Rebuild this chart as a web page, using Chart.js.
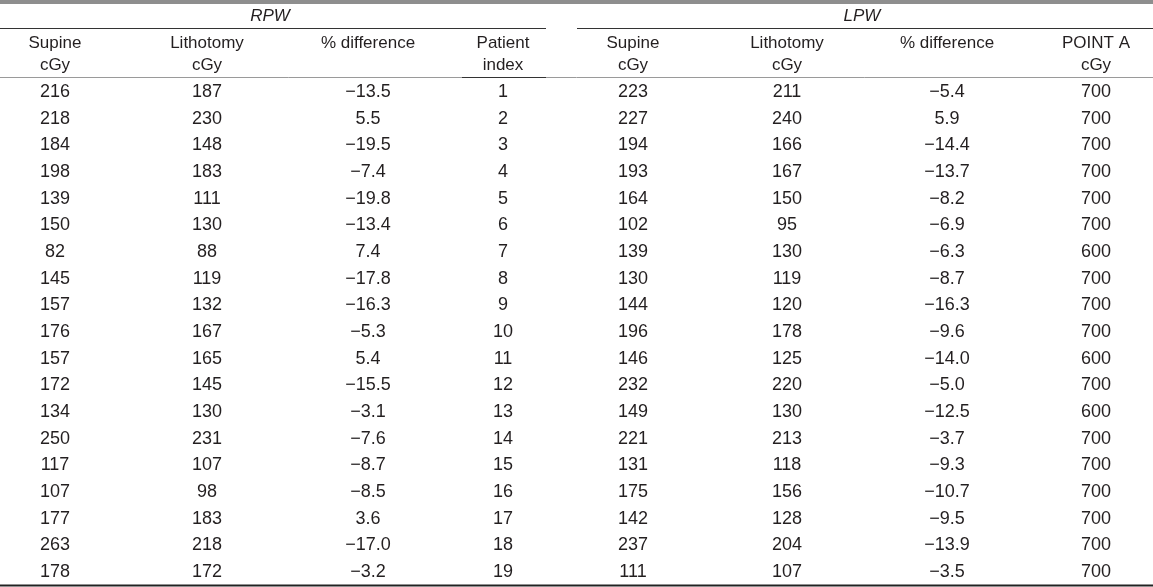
<!DOCTYPE html>
<html>
<head>
<meta charset="utf-8">
<script src="https://cdn.jsdelivr.net/npm/chart.js@4.4.1/dist/chart.umd.min.js"></script>
<style>
  html, body { margin: 0; padding: 0; background: #ffffff; }
  #wrap { width: 1153px; height: 587px; position: relative; }
</style>
</head>
<body>
<div id="wrap"><canvas id="c"></canvas></div>
<script>
// ---- Data ----
const patientIndex = [1,2,3,4,5,6,7,8,9,10,11,12,13,14,15,16,17,18,19];
const rpwSupine    = [216,218,184,198,139,150,82,145,157,176,157,172,134,250,117,107,177,263,178];
const rpwLithotomy = [187,230,148,183,111,130,88,119,132,167,165,145,130,231,107,98,183,218,172];
const rpwDiff      = [-13.5,5.5,-19.5,-7.4,-19.8,-13.4,7.4,-17.8,-16.3,-5.3,5.4,-15.5,-3.1,-7.6,-8.7,-8.5,3.6,-17.0,-3.2];
const lpwSupine    = [223,227,194,193,164,102,139,130,144,196,146,232,149,221,131,175,142,237,111];
const lpwLithotomy = [211,240,166,167,150,95,130,119,120,178,125,220,130,213,118,156,128,204,107];
const lpwDiff      = [-5.4,5.9,-14.4,-13.7,-8.2,-6.9,-6.3,-8.7,-16.3,-9.6,-14.0,-5.0,-12.5,-3.7,-9.3,-10.7,-9.5,-13.9,-3.5];
const pointA       = [700,700,700,700,700,700,600,700,700,700,600,700,600,700,700,700,700,700,700];

const groupLabels = ['RPW', 'LPW'];
const headerLine1 = ['Supine','Lithotomy','% difference','Patient','Supine','Lithotomy','% difference','POINT A'];
const headerLine2 = ['cGy','cGy','','index','cGy','cGy','','cGy'];

// ---- Layout (scale units == pixels) ----
const colX = [55, 207, 368, 503, 633, 787, 947, 1096];
const groupX = [270, 862];
const rowY0 = 91, rowStep = 26.67;
const headY1 = 43, headY2 = 65, groupY = 16;

function fmtDiff(v) {
  return (v < 0 ? '\u2212' : '') + Math.abs(v).toFixed(1);
}
const columns = [
  rpwSupine.map(String), rpwLithotomy.map(String), rpwDiff.map(fmtDiff), patientIndex.map(String),
  lpwSupine.map(String), lpwLithotomy.map(String), lpwDiff.map(fmtDiff), pointA.map(String)
];

const datasets = columns.map((col, ci) => ({
  label: headerLine1[ci],
  data: col.map((txt, ri) => ({ x: colX[ci], y: rowY0 + rowStep * ri, t: txt })),
  pointRadius: 0, showLine: false
}));

const HFONT = '17px "Liberation Sans", Arial, sans-serif';
const NFONT = '18px "Liberation Sans", Arial, sans-serif';
const IFONT = 'italic 17px "Liberation Sans", Arial, sans-serif';
const INK = '#231f20';

const tablePlugin = {
  id: 'tablePlugin',
  afterDatasetsDraw(chart) {
    const ctx = chart.ctx;
    const xs = chart.scales.x, ys = chart.scales.y;
    const px = v => xs.getPixelForValue(v), py = v => ys.getPixelForValue(v);
    ctx.save();
    function hline(x1, x2, y, w, color) {
      ctx.beginPath(); ctx.strokeStyle = color; ctx.lineWidth = w;
      ctx.moveTo(px(x1), py(y)); ctx.lineTo(px(x2), py(y)); ctx.stroke();
    }
    ctx.fillStyle = '#8e8e8e';
    ctx.fillRect(px(0), py(0), px(1153) - px(0), py(4) - py(0));
    hline(0, 546, 28.5, 1.2, '#333');
    hline(577, 1153, 28.5, 1.2, '#333');
    hline(0, 1153, 77.5, 1, '#9a9a9a');
    hline(462, 546, 77.5, 1.2, '#333');
    hline(0, 1153, 585.5, 2, '#222');

    ctx.fillStyle = INK;
    ctx.textAlign = 'center';
    ctx.textBaseline = 'middle';
    ctx.font = IFONT;
    groupLabels.forEach((g, i) => ctx.fillText(g, px(groupX[i]), py(groupY)));
    ctx.font = HFONT;
    headerLine1.forEach((h, i) => ctx.fillText(h, px(colX[i]), py(headY1)));
    headerLine2.forEach((h, i) => { if (h) ctx.fillText(h, px(colX[i]), py(headY2)); });
    ctx.font = NFONT;
    chart.data.datasets.forEach((ds, di) => {
      const meta = chart.getDatasetMeta(di);
      meta.data.forEach((el, k) => {
        ctx.fillText(ds.data[k].t, el.x, el.y + 1);
      });
    });
    ctx.restore();
  }
};

new Chart(document.getElementById('c'), {
  type: 'scatter',
  data: { datasets },
  options: {
    responsive: true,
    maintainAspectRatio: false,
    animation: false,
    layout: { padding: 0 },
    plugins: { legend: { display: false }, tooltip: { enabled: false } },
    scales: {
      x: { type: 'linear', min: 0, max: 1153, display: false },
      y: { type: 'linear', min: 0, max: 587, reverse: true, display: false }
    }
  },
  plugins: [tablePlugin]
});
</script>
</body>
</html>
